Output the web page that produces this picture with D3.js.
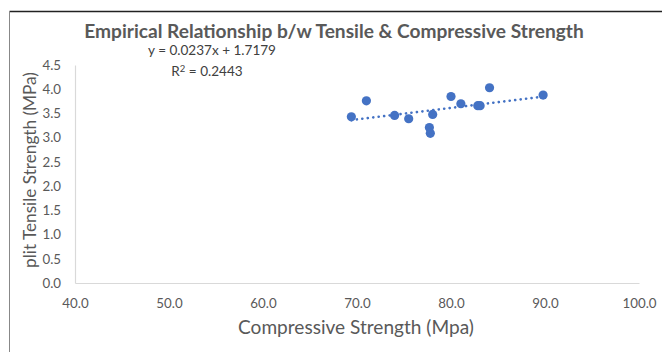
<!DOCTYPE html>
<html><head><meta charset="utf-8">
<script src="https://cdn.jsdelivr.net/npm/d3@7"></script>
<style>body{margin:0;background:#fff}svg{display:block}</style>
</head><body>
<svg id="c" width="662" height="352"></svg>
<script>
const compressive = [69.4, 71.0, 74.0, 75.5, 77.7, 77.8, 78.05, 80.0, 81.05, 82.85, 83.1, 84.1, 89.8];
const tensile     = [3.43, 3.76, 3.46, 3.39, 3.21, 3.09, 3.48, 3.85, 3.70, 3.66, 3.66, 4.03, 3.88];
const xTicks = [40, 50, 60, 70, 80, 90, 100];
const yTicks = [0, 0.5, 1.0, 1.5, 2.0, 2.5, 3.0, 3.5, 4.0, 4.5];
const slope = 0.0237, intercept = 1.7179;
const title = "Empirical Relationship b/w Tensile & Compressive Strength";
const xTitle = "Compressive Strength (Mpa)";
const yTitle = "plit Tensile Strength (MPa)";
const eqText = "y = 0.0237x + 1.7179";

const svg = d3.select("#c");
const font = "Lato, 'Open Sans', sans-serif";
const x = d3.scaleLinear().domain([40, 100]).range([75, 639]);
const y = d3.scaleLinear().domain([0, 4.5]).range([283, 65]);

function fit(sel, w){ const n=sel.node(); const l=n.getComputedTextLength(); const fs=parseFloat(sel.attr("font-size")); sel.attr("font-size", fs*w/l); }

// frame
svg.append("line").attr("x1",9.5).attr("x2",662).attr("y1",11.5).attr("y2",11.5).attr("stroke","#222").attr("stroke-width",1.3);
svg.append("line").attr("x1",9.5).attr("x2",9.5).attr("y1",11).attr("y2",352).attr("stroke","#888").attr("stroke-width",1);

// axes
const xa = svg.append("g").attr("transform","translate(0,283)").call(d3.axisBottom(x).tickValues(xTicks).tickSize(0).tickPadding(13).tickFormat(d3.format(".1f")));
const ya = svg.append("g").attr("transform","translate(75,0)").call(d3.axisLeft(y).tickValues(yTicks).tickSize(0).tickPadding(14).tickFormat(d3.format(".1f")));
[xa, ya].forEach(g=>{
  g.select(".domain").attr("stroke","#d9d9d9").attr("stroke-width",1.2);
  g.selectAll("text").attr("font-family",font).attr("font-size",13.3).attr("fill","#595959");
});
xa.selectAll("text").attr("dy","0.71em").attr("y",16);

// trendline
const xr = d3.extent(compressive);
svg.append("line").attr("x1",x(xr[0])).attr("x2",x(xr[1]))
  .attr("y1",y(slope*xr[0]+intercept)).attr("y2",y(slope*xr[1]+intercept))
  .attr("stroke","#4472C4").attr("stroke-width",2.6).attr("stroke-linecap","round").attr("stroke-dasharray","0.1 5.4");

// points
svg.append("g").selectAll("circle").data(compressive.map((c,i)=>[c,tensile[i]])).join("circle")
  .attr("cx",d=>x(d[0])).attr("cy",d=>y(d[1])).attr("r",4.6).attr("fill","#4472C4");

// titles
const t = svg.append("text").attr("x",334).attr("y",38).attr("text-anchor","middle").attr("font-family",font)
  .attr("font-weight","bold").attr("font-size",18).attr("fill","#595959").text(title);
fit(t, 500);
const xt = svg.append("text").attr("x",356).attr("y",334).attr("text-anchor","middle").attr("font-family",font)
  .attr("font-size",16).attr("fill","#595959").text(xTitle);
fit(xt, 236);
const yt = svg.append("text").attr("transform","translate(36,170) rotate(-90)").attr("text-anchor","middle").attr("font-family",font)
  .attr("font-size",16).attr("fill","#595959").text(yTitle);
fit(yt, 196);

// equation
const e1 = svg.append("text").attr("x",212).attr("y",55).attr("text-anchor","middle").attr("font-family",font)
  .attr("font-size",12).attr("fill","#404040").text(eqText);
fit(e1, 128);
const e2 = svg.append("text").attr("x",207).attr("y",76).attr("text-anchor","middle").attr("font-family",font)
  .attr("font-size",e1.attr("font-size")).attr("fill","#404040");
e2.append("tspan").text("R");
e2.append("tspan").attr("dy",-4).attr("font-size","0.7em").text("2");
e2.append("tspan").attr("dy",4).text(" = 0.2443");
</script>
</body></html>
